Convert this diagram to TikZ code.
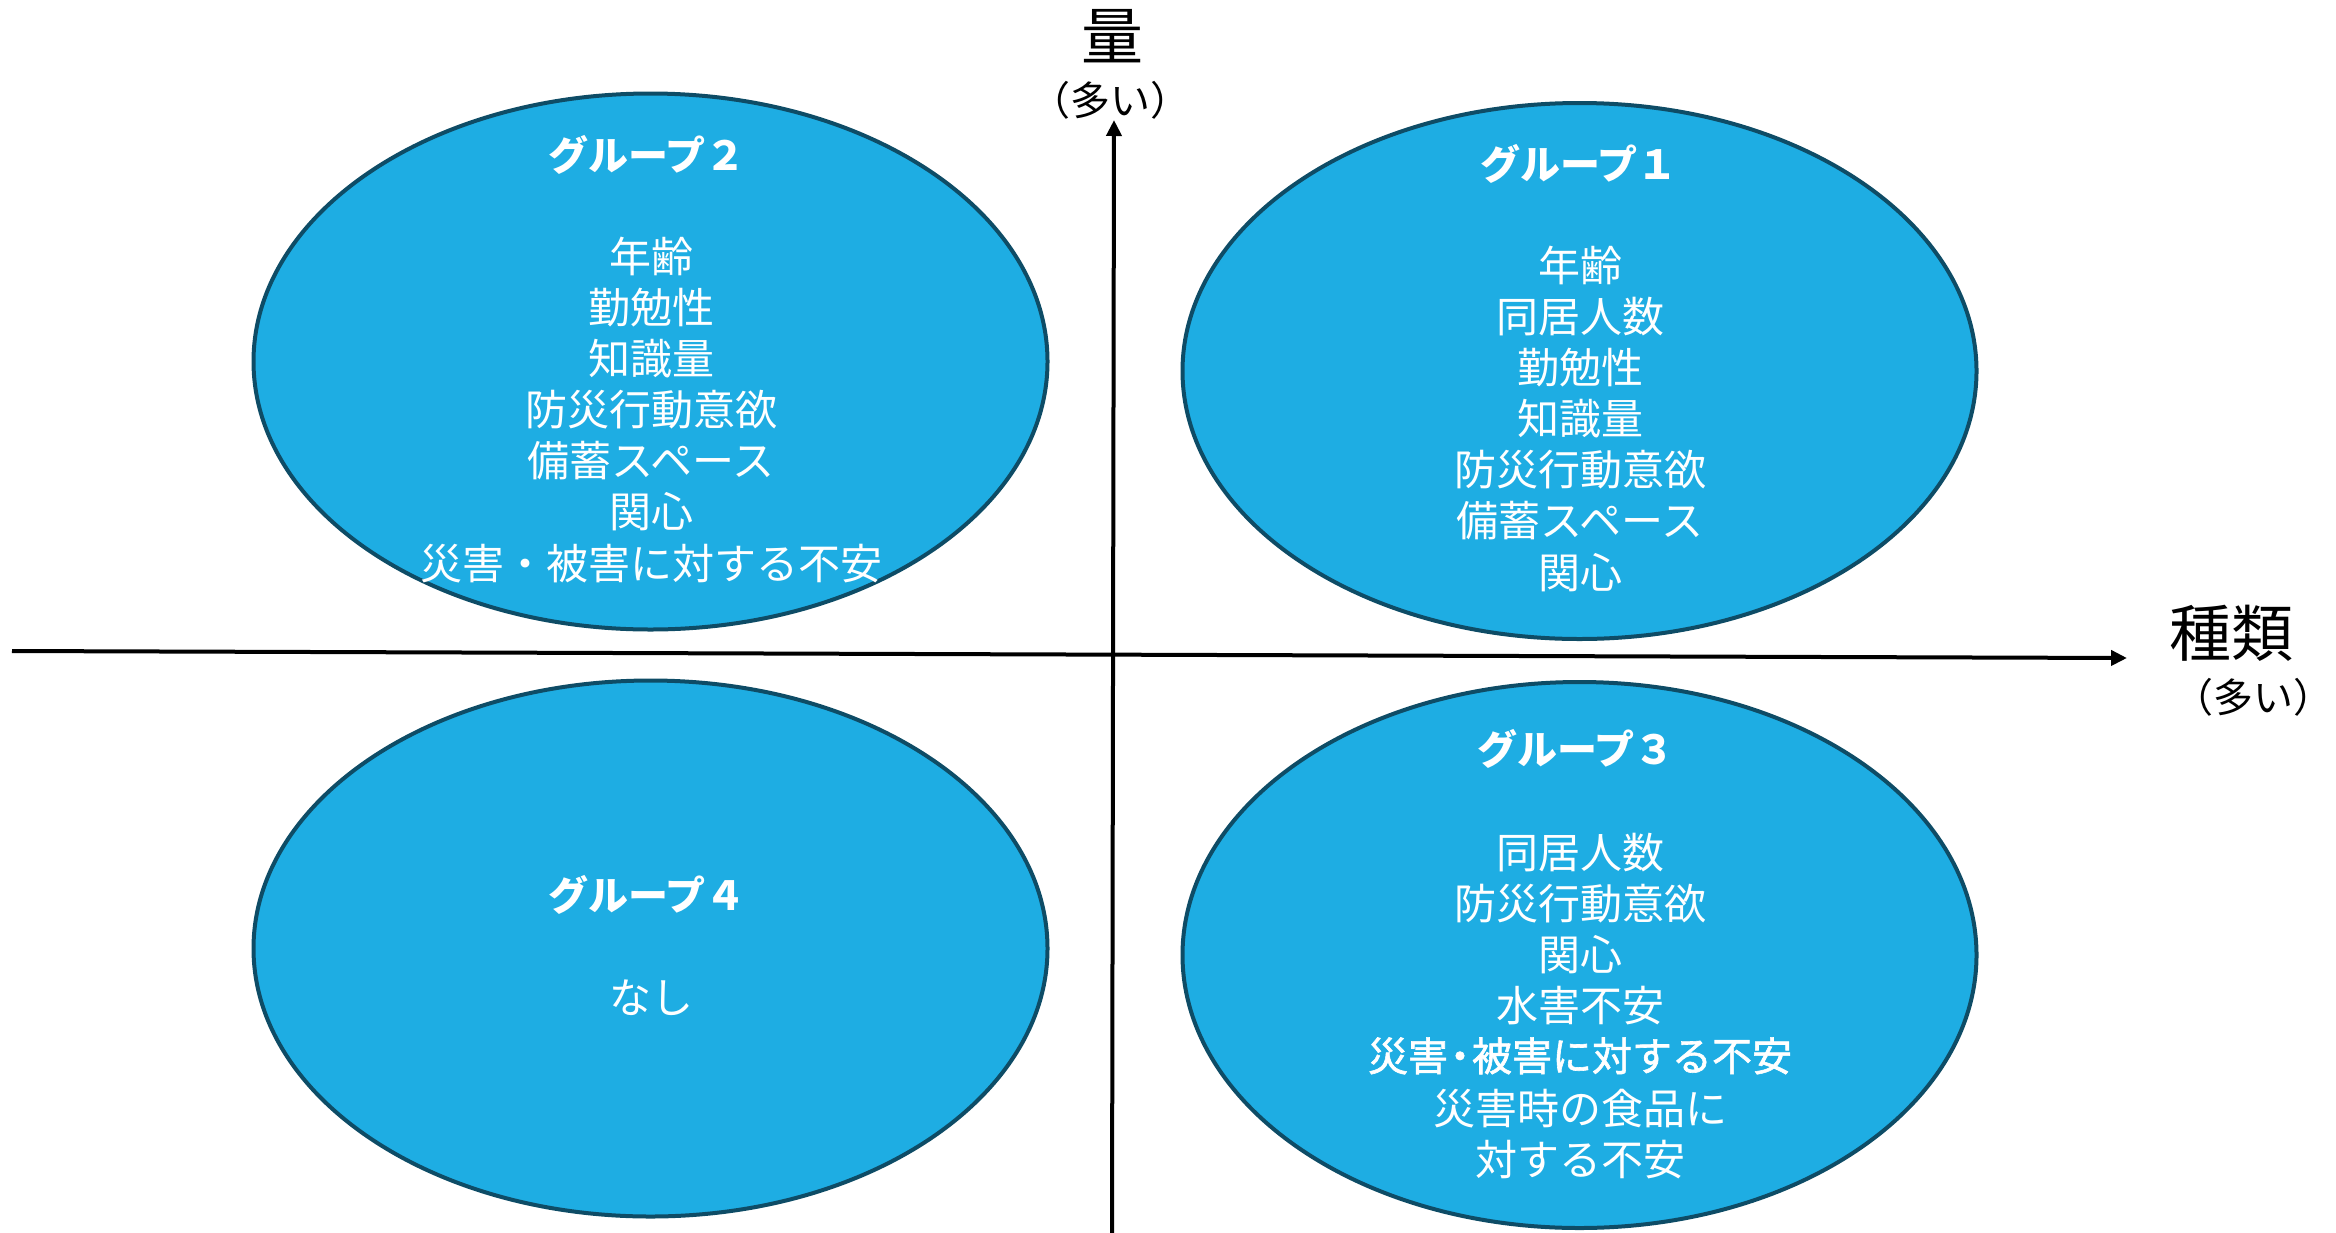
\documentclass[tikz,border=0pt]{standalone}
\usepackage{fontspec}
\setmainfont{Noto Sans CJK JP}
\newfontfamily\jpmed[FakeBold=1.5]{Noto Sans CJK JP}
\usetikzlibrary{shapes.geometric,arrows.meta}
\definecolor{fillC}{RGB}{30,173,227}
\definecolor{edgeC}{RGB}{14,76,102}
\tikzset{
  grp/.style={ellipse, draw=edgeC, fill=fillC, line width=4pt, inner sep=0pt, minimum width=794pt, minimum height=536pt},
  ttl/.style={text=white, inner sep=0pt, font=\fontsize{40}{48}\selectfont\bfseries, text height=35pt, text depth=5pt},
  body/.style={text=white, inner sep=0pt, font=\fontsize{42}{51}\selectfont, text height=37pt, text depth=5pt},
  bodyb/.style={text=white, inner sep=0pt, font=\fontsize{40}{51}\selectfont\jpmed, text height=35pt, text depth=5pt},
  axl/.style={text=black, inner sep=0pt, font=\fontsize{62}{70}\selectfont, text height=54.5pt, text depth=7.5pt},
  axs/.style={text=black, inner sep=0pt, font=\fontsize{40}{48}\selectfont, text height=35pt, text depth=5pt},
  axis/.style={line width=4pt, -{Triangle[length=16pt,width=15pt]}}
}
\begin{document}
\begin{tikzpicture}[x=1pt,y=-1pt]
\path[use as bounding box] (0,0) rectangle (2336,1232);
% ellipses
\node[grp] (e2) at (650.5,361.5) {};
\node[grp] (e1) at (1579.5,371) {};
\node[grp] (e4) at (650.5,948.5) {};
\node[grp, minimum height=546pt] (e3) at (1579.5,955) {};
% axes
\coordinate (xL) at (12,651);
\coordinate (xR) at (2127,658);
\coordinate (yB) at (1112,1234);
\coordinate (yT) at (1114,120);
\draw[axis] (xL) -- (xR);
\draw[axis] (yB) -- (yT);
% axis labels
\node[axl] (qty) at (1112,36) {量};
\node[axs] (qtym) at (1110,100) {（多い）};
\node[axl] (kind) at (2231,633) {種類};
\node[axs] (kindm) at (2253,697) {（多い）};
% group 2
\node[ttl] (t2) at (647,155) {グループ２};
\foreach \t [count=\i] in {年齢,勤勉性,知識量,防災行動意欲,備蓄スペース,関心,災害・被害に対する不安}
  \node[body] (g2l\i) at (651,{256+(\i-1)*51.17}) {\t};
% group 1
\node[ttl] (t1) at (1579,164) {グループ１};
\foreach \t [count=\i] in {年齢,同居人数,勤勉性,知識量,防災行動意欲,備蓄スペース,関心}
  \node[body] (g1l\i) at (1580,{265+(\i-1)*51.17}) {\t};
% group 4
\node[ttl] (t4) at (647,895) {グループ４};
\node[body] (g4l1) at (651,997) {なし};
% group 3
\node[ttl] (t3) at (1576,749) {グループ３};
\foreach \t [count=\i] in {同居人数,防災行動意欲,関心,水害不安}
  \node[body] (g3l\i) at (1580,{852+(\i-1)*51.17}) {\t};
\node[bodyb] (g3l5) at (1580,1056) {災害\kern-8pt・\kern-8pt 被害に対する不安};
\node[body] (g3l6) at (1580,1108) {災害時の食品に};
\node[body] (g3l7) at (1580,1159) {対する不安};
\end{tikzpicture}
\end{document}
